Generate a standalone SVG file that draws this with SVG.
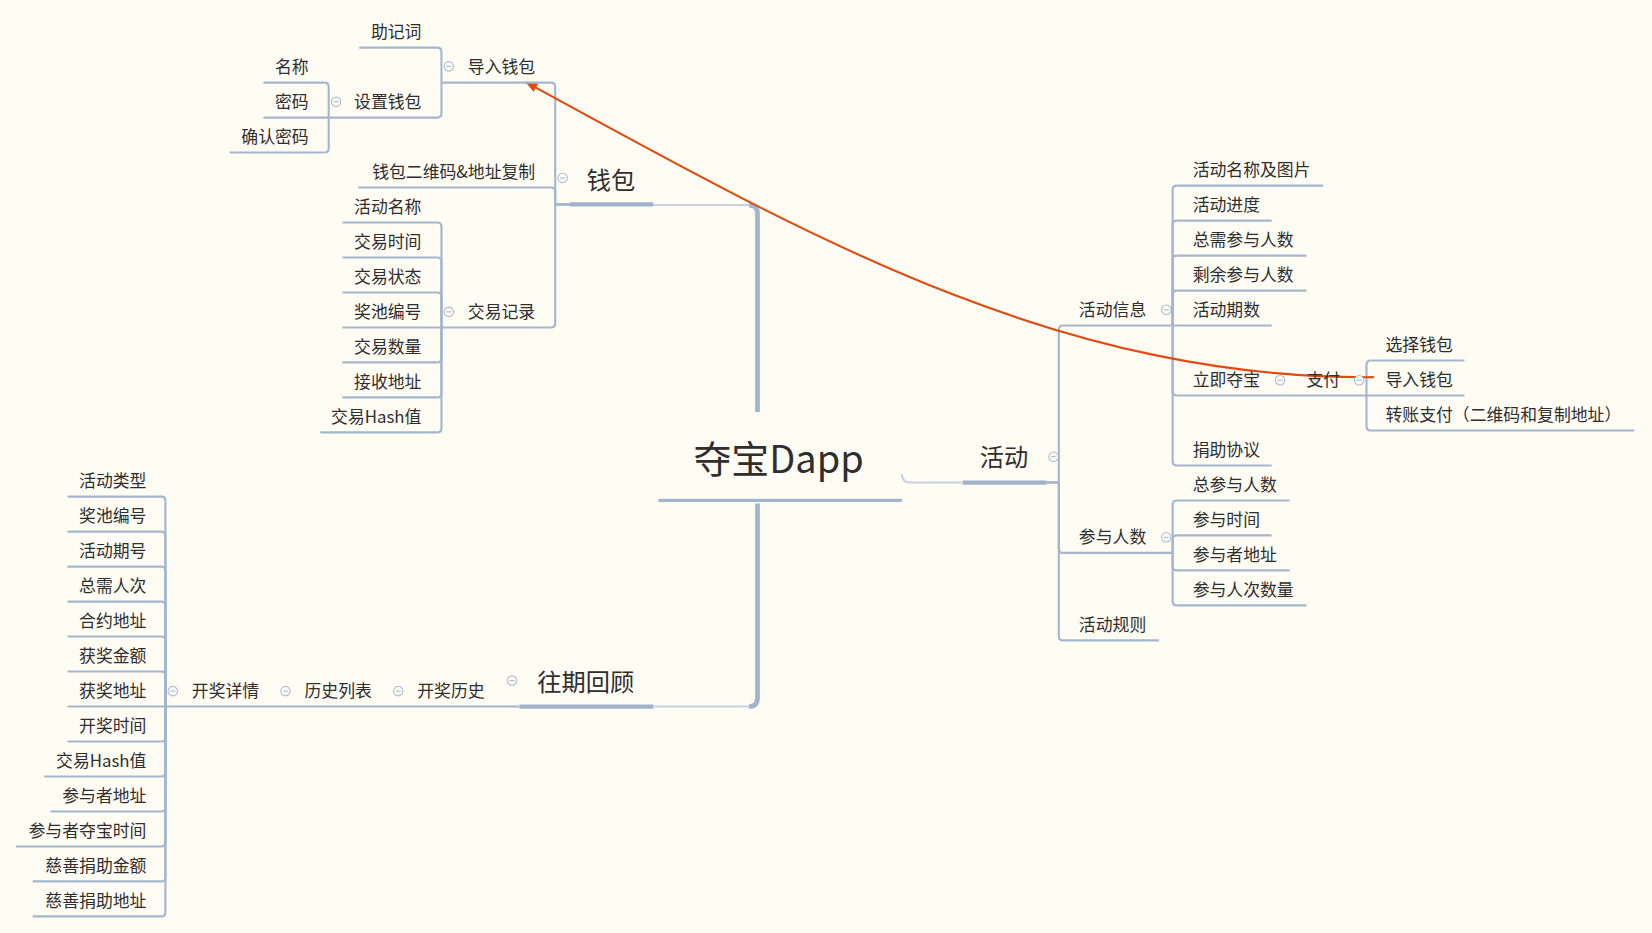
<svg xmlns="http://www.w3.org/2000/svg" width="1652" height="933" viewBox="0 0 1652 933">
<defs>
<style>
.t{font-family:"Noto Sans CJK SC","Liberation Sans",sans-serif;font-size:16px;fill:#2e2e2e}
.tm{font-family:"Noto Sans CJK SC","Liberation Sans",sans-serif;font-size:23px;fill:#2e2e2e}
.tc{font-family:"Noto Sans CJK SC","Liberation Sans",sans-serif;font-size:36px;fill:#2e2e2e}
.u{stroke:#a3b6ce;stroke-width:2;fill:none}
.ut{stroke:#a0b3cc;stroke-width:4;fill:none}
.c{stroke:#a3b6ce;stroke-width:2;fill:none}
.cl{stroke:#c6d2e2;stroke-width:2;fill:none}
.ct{stroke:#a2b5cd;stroke-width:4.5;fill:none}
.col circle{fill:#fffcf4;stroke:#a9bad2;stroke-width:1}
.col path{stroke:#a9bad2;stroke-width:1}
</style>
<marker id="ah" markerUnits="userSpaceOnUse" markerWidth="12" markerHeight="10" refX="11" refY="4.5" orient="auto">
<path d="M0,0 L11,4.5 L0,9 z" fill="#e2490f"/>
</marker>
</defs>
<rect width="1652" height="933" fill="#fffcf4"/>
<g transform="scale(1.05357)">
<g id="connectors">
<path class="ct" d="M719,391 V203 Q719,194.6 711,194.6"/>
<path class="cl" d="M711,194.6 H620"/>
<path class="ct" d="M719,478 V662 Q719,670.6 711,670.6"/>
<path class="cl" d="M711,670.6 H620"/>
<path class="cl" d="M856,450 Q856,458 864,458 H914"/>
<path class="c" d="M541,194 H527 V82.4 Q527,78.4 523,78.4"/>
<path class="c" d="M541,194 H527 V182 Q527,178 523,178"/>
<path class="c" d="M541,194 H527 V306.8 Q527,310.8 523,310.8"/>
<path class="c" d="M419,78.4 V49.2 Q419,45.2 415,45.2"/>
<path class="c" d="M419,78.4 V107.6 Q419,111.6 415,111.6"/>
<path class="c" d="M312,111.6 V82.4 Q312,78.4 308,78.4"/>
<path class="c" d="M312,111.6 V140.8 Q312,144.8 308,144.8"/>
<path class="c" d="M419,310.8 V215.2 Q419,211.2 415,211.2"/>
<path class="c" d="M419,310.8 V248.4 Q419,244.4 415,244.4"/>
<path class="c" d="M419,310.8 V281.6 Q419,277.6 415,277.6"/>
<path class="c" d="M419,310.8 V340 Q419,344 415,344"/>
<path class="c" d="M419,310.8 V373.2 Q419,377.2 415,377.2"/>
<path class="c" d="M419,310.8 V406.4 Q419,410.4 415,410.4"/>
<path class="c" d="M993,458 H1005 V313 Q1005,309 1009,309"/>
<path class="c" d="M993,458 H1005 V520.8 Q1005,524.8 1009,524.8"/>
<path class="c" d="M993,458 H1005 V603.8 Q1005,607.8 1009,607.8"/>
<path class="c" d="M1113,309 V180.2 Q1113,176.2 1117,176.2"/>
<path class="c" d="M1113,309 V213.4 Q1113,209.4 1117,209.4"/>
<path class="c" d="M1113,309 V246.6 Q1113,242.6 1117,242.6"/>
<path class="c" d="M1113,309 V279.8 Q1113,275.8 1117,275.8"/>
<path class="c" d="M1113,309 V371.4 Q1113,375.4 1117,375.4"/>
<path class="c" d="M1113,309 V437.8 Q1113,441.8 1117,441.8"/>
<path class="c" d="M1297,375.4 V346.2 Q1297,342.2 1301,342.2"/>
<path class="c" d="M1297,375.4 V404.6 Q1297,408.6 1301,408.6"/>
<path class="c" d="M1113,524.8 V479 Q1113,475 1117,475"/>
<path class="c" d="M1113,524.8 V512.2 Q1113,508.2 1117,508.2"/>
<path class="c" d="M1113,524.8 V537.4 Q1113,541.4 1117,541.4"/>
<path class="c" d="M1113,524.8 V570.6 Q1113,574.6 1117,574.6"/>
<path class="c" d="M157,670.6 V475.4 Q157,471.4 153,471.4"/>
<path class="c" d="M157,670.6 V508.6 Q157,504.6 153,504.6"/>
<path class="c" d="M157,670.6 V541.8 Q157,537.8 153,537.8"/>
<path class="c" d="M157,670.6 V575 Q157,571 153,571"/>
<path class="c" d="M157,670.6 V608.2 Q157,604.2 153,604.2"/>
<path class="c" d="M157,670.6 V641.4 Q157,637.4 153,637.4"/>
<path class="c" d="M157,670.6 V699.8 Q157,703.8 153,703.8"/>
<path class="c" d="M157,670.6 V733 Q157,737 153,737"/>
<path class="c" d="M157,670.6 V766.2 Q157,770.2 153,770.2"/>
<path class="c" d="M157,670.6 V799.4 Q157,803.4 153,803.4"/>
<path class="c" d="M157,670.6 V832.6 Q157,836.6 153,836.6"/>
<path class="c" d="M157,670.6 V865.8 Q157,869.8 153,869.8"/>
<path d="M1304,358 C1000,360 760,220 499,78" fill="none" stroke="#e2490f" stroke-width="2" marker-end="url(#ah)"/>
</g>

<g id="root"><text class="tc" x="739" y="449" text-anchor="middle">夺宝Dapp</text><path d="M625,475 H856" stroke="#a3b6ce" stroke-width="3"/></g>

<g id="n-qianbao"><text class="tm" x="580" y="179.5" text-anchor="middle">钱包</text><path class="ut" d="M541,194 H620"/><g class="col"><circle cx="534" cy="169" r="4.5"/><path d="M531.5,169 H536.5"/></g></g>
<g id="n-daoru"><text class="t" x="508" y="69.4" text-anchor="end">导入钱包</text><path class="u" d="M419,78.4 H523"/><g class="col"><circle cx="426" cy="63" r="4.5"/><path d="M423.5,63 H428.5"/></g></g>
<g id="n-zhujici"><text class="t" x="400" y="36.2" text-anchor="end">助记词</text><path class="u" d="M341,45.2 H415"/></g>
<g id="n-shezhi"><text class="t" x="400" y="102.6" text-anchor="end">设置钱包</text><path class="u" d="M312,111.6 H415"/><g class="col"><circle cx="319" cy="96.5" r="4.5"/><path d="M316.5,96.5 H321.5"/></g></g>
<g id="n-mingcheng"><text class="t" x="293" y="69.4" text-anchor="end">名称</text><path class="u" d="M250,78.4 H308"/></g>
<g id="n-mima"><text class="t" x="293" y="102.6" text-anchor="end">密码</text><path class="u" d="M250,111.6 H312"/></g>
<g id="n-querenmima"><text class="t" x="293" y="135.8" text-anchor="end">确认密码</text><path class="u" d="M218,144.8 H308"/></g>
<g id="n-erweima"><text class="t" x="508" y="169" text-anchor="end">钱包二维码&amp;地址复制</text><path class="u" d="M340,178 H523"/></g>
<g id="n-jiaoyijilu"><text class="t" x="508" y="301.8" text-anchor="end">交易记录</text><path class="u" d="M419,310.8 H523"/><g class="col"><circle cx="426" cy="296" r="4.5"/><path d="M423.5,296 H428.5"/></g></g>
<g id="n-jy1"><text class="t" x="400" y="202.2" text-anchor="end">活动名称</text><path class="u" d="M325,211.2 H415"/></g>
<g id="n-jy2"><text class="t" x="400" y="235.4" text-anchor="end">交易时间</text><path class="u" d="M325,244.4 H415"/></g>
<g id="n-jy3"><text class="t" x="400" y="268.6" text-anchor="end">交易状态</text><path class="u" d="M325,277.6 H415"/></g>
<g id="n-jy4"><text class="t" x="400" y="301.8" text-anchor="end">奖池编号</text><path class="u" d="M325,310.8 H419"/></g>
<g id="n-jy5"><text class="t" x="400" y="335" text-anchor="end">交易数量</text><path class="u" d="M325,344 H415"/></g>
<g id="n-jy6"><text class="t" x="400" y="368.2" text-anchor="end">接收地址</text><path class="u" d="M325,377.2 H415"/></g>
<g id="n-jy7"><text class="t" x="400" y="401.4" text-anchor="end">交易Hash值</text><path class="u" d="M304,410.4 H415"/></g>

<g id="n-huodong"><text class="tm" x="953" y="442.5" text-anchor="middle">活动</text><path class="ut" d="M914,458 H993"/><g class="col"><circle cx="1000" cy="433.5" r="4.5"/><path d="M997.5,433.5 H1002.5"/></g></g>
<g id="n-hdxx"><text class="t" x="1024" y="300">活动信息</text><path class="u" d="M1009,309 H1113"/><g class="col"><circle cx="1107" cy="294" r="4.5"/><path d="M1104.5,294 H1109.5"/></g></g>
<g id="n-hx1"><text class="t" x="1132" y="167.2">活动名称及图片</text><path class="u" d="M1117,176.2 H1256"/></g>
<g id="n-hx2"><text class="t" x="1132" y="200.4">活动进度</text><path class="u" d="M1117,209.4 H1207"/></g>
<g id="n-hx3"><text class="t" x="1132" y="233.6">总需参与人数</text><path class="u" d="M1117,242.6 H1240"/></g>
<g id="n-hx4"><text class="t" x="1132" y="266.8">剩余参与人数</text><path class="u" d="M1117,275.8 H1240"/></g>
<g id="n-hx5"><text class="t" x="1132" y="300">活动期数</text><path class="u" d="M1113,309 H1207"/></g>
<g id="n-lijiduobao"><text class="t" x="1132" y="366.4">立即夺宝</text><path class="u" d="M1117,375.4 H1222"/><g class="col"><circle cx="1215" cy="361" r="4.5"/><path d="M1212.5,361 H1217.5"/></g></g>
<g id="n-zhifu"><text class="t" x="1240" y="366.4">支付</text><path class="u" d="M1222,375.4 H1297"/><g class="col"><circle cx="1290" cy="361" r="4.5"/><path d="M1287.5,361 H1292.5"/></g></g>
<g id="n-zf1"><text class="t" x="1315" y="333.2">选择钱包</text><path class="u" d="M1301,342.2 H1390"/></g>
<g id="n-zf2"><text class="t" x="1315" y="366.4">导入钱包</text><path class="u" d="M1297,375.4 H1390"/></g>
<g id="n-zf3"><text class="t" x="1315" y="399.6">转账支付（二维码和复制地址）</text><path class="u" d="M1301,408.6 H1551"/></g>
<g id="n-juanzhu"><text class="t" x="1132" y="432.8">捐助协议</text><path class="u" d="M1117,441.8 H1207"/></g>
<g id="n-cyrs"><text class="t" x="1024" y="515.8">参与人数</text><path class="u" d="M1009,524.8 H1113"/><g class="col"><circle cx="1107" cy="510" r="4.5"/><path d="M1104.5,510 H1109.5"/></g></g>
<g id="n-cy1"><text class="t" x="1132" y="466">总参与人数</text><path class="u" d="M1117,475 H1224"/></g>
<g id="n-cy2"><text class="t" x="1132" y="499.2">参与时间</text><path class="u" d="M1117,508.2 H1207"/></g>
<g id="n-cy3"><text class="t" x="1132" y="532.4">参与者地址</text><path class="u" d="M1117,541.4 H1224"/></g>
<g id="n-cy4"><text class="t" x="1132" y="565.6">参与人次数量</text><path class="u" d="M1117,574.6 H1240"/></g>
<g id="n-hdgz"><text class="t" x="1024" y="598.8">活动规则</text><path class="u" d="M1009,607.8 H1100"/></g>

<g id="n-wangqi"><text class="tm" x="556" y="655.5" text-anchor="middle">往期回顾</text><path class="ut" d="M493,670.6 H620"/><g class="col"><circle cx="486" cy="646" r="4.5"/><path d="M483.5,646 H488.5"/></g></g>
<g id="n-kjls"><text class="t" x="460" y="661.6" text-anchor="end">开奖历史</text><path class="u" d="M371,670.6 H493"/><g class="col"><circle cx="378" cy="656" r="4.5"/><path d="M375.5,656 H380.5"/></g></g>
<g id="n-lslb"><text class="t" x="353" y="661.6" text-anchor="end">历史列表</text><path class="u" d="M264,670.6 H371"/><g class="col"><circle cx="271" cy="656" r="4.5"/><path d="M268.5,656 H273.5"/></g></g>
<g id="n-kjxq"><text class="t" x="246" y="661.6" text-anchor="end">开奖详情</text><path class="u" d="M157,670.6 H264"/><g class="col"><circle cx="164" cy="656" r="4.5"/><path d="M161.5,656 H166.5"/></g></g>
<g id="n-k1"><text class="t" x="139" y="462.4" text-anchor="end">活动类型</text><path class="u" d="M64,471.4 H153"/></g>
<g id="n-k2"><text class="t" x="139" y="495.6" text-anchor="end">奖池编号</text><path class="u" d="M64,504.6 H153"/></g>
<g id="n-k3"><text class="t" x="139" y="528.8" text-anchor="end">活动期号</text><path class="u" d="M64,537.8 H153"/></g>
<g id="n-k4"><text class="t" x="139" y="562" text-anchor="end">总需人次</text><path class="u" d="M64,571 H153"/></g>
<g id="n-k5"><text class="t" x="139" y="595.2" text-anchor="end">合约地址</text><path class="u" d="M64,604.2 H153"/></g>
<g id="n-k6"><text class="t" x="139" y="628.4" text-anchor="end">获奖金额</text><path class="u" d="M64,637.4 H153"/></g>
<g id="n-k7"><text class="t" x="139" y="661.6" text-anchor="end">获奖地址</text><path class="u" d="M64,670.6 H157"/></g>
<g id="n-k8"><text class="t" x="139" y="694.8" text-anchor="end">开奖时间</text><path class="u" d="M64,703.8 H153"/></g>
<g id="n-k9"><text class="t" x="139" y="728" text-anchor="end">交易Hash值</text><path class="u" d="M42,737 H153"/></g>
<g id="n-k10"><text class="t" x="139" y="761.2" text-anchor="end">参与者地址</text><path class="u" d="M48,770.2 H153"/></g>
<g id="n-k11"><text class="t" x="139" y="794.4" text-anchor="end">参与者夺宝时间</text><path class="u" d="M15,803.4 H153"/></g>
<g id="n-k12"><text class="t" x="139" y="827.6" text-anchor="end">慈善捐助金额</text><path class="u" d="M31,836.6 H153"/></g>
<g id="n-k13"><text class="t" x="139" y="860.8" text-anchor="end">慈善捐助地址</text><path class="u" d="M31,869.8 H153"/></g>
</g>
</svg>
